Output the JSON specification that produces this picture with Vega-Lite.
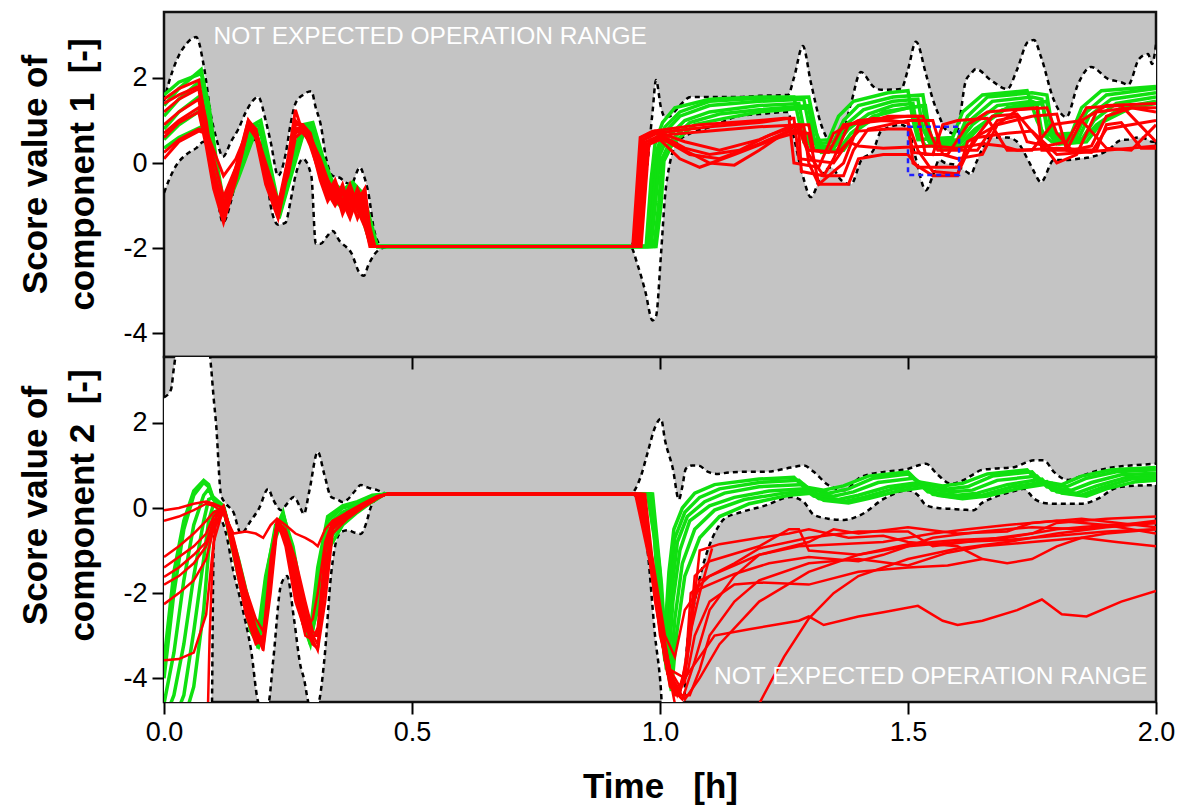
{
"$schema":"https://vega.github.io/schema/vega-lite/v6.json",
"background":"white",
"padding":{"left":17,"top":10,"right":10,"bottom":5},
"spacing":0,
"bounds":"flush",
"config":{
"font":"Liberation Sans",
"view":{"fill":"#c4c4c4","stroke":"#111111","strokeWidth":2.5},
"axis":{"domain":false,"grid":false,"labelFont":"Liberation Sans","labelFontSize":27,"labelColor":"black","tickColor":"black","tickWidth":2,"tickSize":12,"labelPadding":5,"labelFlush":false,"labelOverlap":false,"titleFont":"Liberation Sans","titleFontSize":35,"titleFontWeight":"bold","titleColor":"black"}
},
"datasets":{
"e1":[{"x":0,"lo":-0.7,"hi":1.45},{"x":0.01,"lo":-0.4,"hi":1.9},{"x":0.025,"lo":-0.05,"hi":2.4},{"x":0.045,"lo":0.2,"hi":2.8},{"x":0.065,"lo":0.35,"hi":2.96},{"x":0.08,"lo":0.5,"hi":2.3},{"x":0.095,"lo":0.1,"hi":1.1},{"x":0.105,"lo":-0.6,"hi":0.6},{"x":0.119,"lo":-1.4,"hi":0.15},{"x":0.135,"lo":-0.9,"hi":0.5},{"x":0.15,"lo":-0.1,"hi":0.8},{"x":0.165,"lo":0.5,"hi":1.2},{"x":0.19,"lo":0.55,"hi":1.55},{"x":0.205,"lo":0,"hi":1},{"x":0.215,"lo":-1,"hi":0.5},{"x":0.23,"lo":-1.45,"hi":-0.3},{"x":0.245,"lo":-1.4,"hi":0.2},{"x":0.255,"lo":-0.9,"hi":0.9},{"x":0.265,"lo":-0.3,"hi":1.4},{"x":0.28,"lo":0.1,"hi":1.6},{"x":0.297,"lo":-0.3,"hi":1.69},{"x":0.306,"lo":-1.9,"hi":1.3},{"x":0.316,"lo":-1.9,"hi":0.9},{"x":0.327,"lo":-1.75,"hi":0.1},{"x":0.34,"lo":-1.6,"hi":-0.3},{"x":0.355,"lo":-1.85,"hi":-0.35},{"x":0.365,"lo":-1.95,"hi":-0.45},{"x":0.377,"lo":-2.1,"hi":-0.5},{"x":0.395,"lo":-2.6,"hi":-0.1},{"x":0.403,"lo":-2.65,"hi":-0.3},{"x":0.412,"lo":-2.4,"hi":-0.7},{"x":0.424,"lo":-2.15,"hi":-1.6},{"x":0.44,"lo":-2,"hi":-1.96},{"x":0.46,"lo":-1.96,"hi":-1.96},{"x":0.94,"lo":-1.96,"hi":-1.96},{"x":0.955,"lo":-2.4,"hi":-1.5},{"x":0.97,"lo":-3,"hi":-0.5},{"x":0.985,"lo":-3.7,"hi":1.2},{"x":0.992,"lo":-3.6,"hi":1.95},{"x":1.002,"lo":-2.15,"hi":1.3},{"x":1.01,"lo":-0.8,"hi":1.08},{"x":1.02,"lo":0,"hi":1.1},{"x":1.036,"lo":0.5,"hi":1.3},{"x":1.062,"lo":0.7,"hi":1.55},{"x":1.103,"lo":0.85,"hi":1.55},{"x":1.157,"lo":1.1,"hi":1.55},{"x":1.2,"lo":1.15,"hi":1.58},{"x":1.258,"lo":1.2,"hi":1.6},{"x":1.27,"lo":0.6,"hi":2},{"x":1.288,"lo":-0.3,"hi":2.75},{"x":1.304,"lo":-0.8,"hi":1.9},{"x":1.325,"lo":-0.3,"hi":0.9},{"x":1.345,"lo":-0.1,"hi":0.5},{"x":1.365,"lo":-0.4,"hi":0.6},{"x":1.385,"lo":-0.5,"hi":1.4},{"x":1.405,"lo":0.05,"hi":2.14},{"x":1.43,"lo":0.3,"hi":1.8},{"x":1.446,"lo":0.75,"hi":1.72},{"x":1.486,"lo":0.9,"hi":1.74},{"x":1.5,"lo":0.8,"hi":2.2},{"x":1.516,"lo":0.1,"hi":2.85},{"x":1.536,"lo":-0.64,"hi":2.1},{"x":1.55,"lo":-0.3,"hi":1.5},{"x":1.563,"lo":0.07,"hi":1.1},{"x":1.575,"lo":0,"hi":0.8},{"x":1.597,"lo":-0.05,"hi":0.68},{"x":1.617,"lo":-0.2,"hi":1.95},{"x":1.627,"lo":-0.26,"hi":2.1},{"x":1.637,"lo":0,"hi":2.21},{"x":1.667,"lo":0.6,"hi":1.95},{"x":1.7,"lo":0.6,"hi":1.74},{"x":1.72,"lo":0.5,"hi":2.2},{"x":1.742,"lo":0.07,"hi":2.85},{"x":1.754,"lo":-0.2,"hi":2.89},{"x":1.768,"lo":-0.45,"hi":2.5},{"x":1.794,"lo":0.07,"hi":1.48},{"x":1.819,"lo":0.07,"hi":1.08},{"x":1.843,"lo":0.1,"hi":1.86},{"x":1.869,"lo":0.14,"hi":2.26},{"x":1.903,"lo":0.3,"hi":1.98},{"x":1.93,"lo":0.54,"hi":1.9},{"x":1.944,"lo":0.55,"hi":1.84},{"x":1.966,"lo":0.6,"hi":2.45},{"x":1.984,"lo":0.55,"hi":2.56},{"x":1.992,"lo":0.5,"hi":2.33},{"x":2,"lo":0.5,"hi":2.78}],
"e2":[{"x":0,"lo":-6,"hi":2.6},{"x":0.014,"lo":-6,"hi":2.78},{"x":0.02,"lo":-6,"hi":3.3},{"x":0.03,"lo":-6,"hi":4},{"x":0.088,"lo":-6,"hi":4},{"x":0.095,"lo":-6,"hi":3.3},{"x":0.1,"lo":-1,"hi":2.6},{"x":0.105,"lo":-0.3,"hi":1.98},{"x":0.115,"lo":-0.3,"hi":0.3},{"x":0.125,"lo":-0.6,"hi":0.1},{"x":0.14,"lo":-1.5,"hi":-0.1},{"x":0.155,"lo":-2.2,"hi":-0.6},{"x":0.175,"lo":-3.3,"hi":-0.3},{"x":0.192,"lo":-4.6,"hi":0},{"x":0.21,"lo":-4.6,"hi":0.45},{"x":0.22,"lo":-3.6,"hi":0.2},{"x":0.236,"lo":-1.8,"hi":-0.05},{"x":0.248,"lo":-1.6,"hi":0.1},{"x":0.262,"lo":-2.6,"hi":0.26},{"x":0.275,"lo":-3.7,"hi":0},{"x":0.282,"lo":-4,"hi":-0.14},{"x":0.293,"lo":-4.6,"hi":0.4},{"x":0.31,"lo":-4.6,"hi":1.32},{"x":0.323,"lo":-3.6,"hi":0.8},{"x":0.337,"lo":-1.55,"hi":0.26},{"x":0.35,"lo":-0.68,"hi":0.2},{"x":0.36,"lo":-0.55,"hi":0.14},{"x":0.37,"lo":-0.52,"hi":0.2},{"x":0.385,"lo":-0.58,"hi":0.4},{"x":0.397,"lo":-0.61,"hi":0.54},{"x":0.407,"lo":-0.38,"hi":0.5},{"x":0.417,"lo":0.02,"hi":0.46},{"x":0.43,"lo":0.25,"hi":0.42},{"x":0.445,"lo":0.33,"hi":0.35},{"x":0.46,"lo":0.33,"hi":0.33},{"x":0.94,"lo":0.33,"hi":0.33},{"x":0.96,"lo":0.2,"hi":0.7},{"x":0.975,"lo":-1,"hi":1.3},{"x":0.99,"lo":-3,"hi":1.9},{"x":1.002,"lo":-4.3,"hi":2.1},{"x":1.01,"lo":-6,"hi":1.6},{"x":1.026,"lo":-6,"hi":0.92},{"x":1.038,"lo":-6,"hi":0.2},{"x":1.045,"lo":-6,"hi":0.5},{"x":1.052,"lo":-3.6,"hi":0.92},{"x":1.065,"lo":-2.5,"hi":1},{"x":1.077,"lo":-1.8,"hi":1},{"x":1.097,"lo":-0.96,"hi":0.85},{"x":1.117,"lo":-0.45,"hi":0.8},{"x":1.129,"lo":-0.26,"hi":0.82},{"x":1.163,"lo":-0.1,"hi":0.85},{"x":1.21,"lo":0.05,"hi":0.85},{"x":1.264,"lo":0.26,"hi":0.95},{"x":1.29,"lo":0.14,"hi":1},{"x":1.31,"lo":-0.16,"hi":0.85},{"x":1.339,"lo":-0.25,"hi":0.54},{"x":1.371,"lo":-0.28,"hi":0.42},{"x":1.405,"lo":-0.16,"hi":0.73},{"x":1.452,"lo":0.22,"hi":0.85},{"x":1.5,"lo":0.42,"hi":0.92},{"x":1.52,"lo":0.3,"hi":1},{"x":1.536,"lo":0.07,"hi":1.04},{"x":1.56,"lo":0,"hi":0.78},{"x":1.587,"lo":-0.02,"hi":0.57},{"x":1.613,"lo":-0.04,"hi":0.66},{"x":1.633,"lo":-0.05,"hi":0.8},{"x":1.647,"lo":0.1,"hi":0.89},{"x":1.667,"lo":0.22,"hi":0.92},{"x":1.714,"lo":0.4,"hi":0.96},{"x":1.734,"lo":0.45,"hi":1.05},{"x":1.754,"lo":0.22,"hi":1.12},{"x":1.774,"lo":0.12,"hi":1.12},{"x":1.794,"lo":0.1,"hi":0.85},{"x":1.823,"lo":0.1,"hi":0.66},{"x":1.849,"lo":0.1,"hi":0.75},{"x":1.883,"lo":0.22,"hi":0.88},{"x":1.915,"lo":0.45,"hi":0.96},{"x":1.93,"lo":0.5,"hi":0.98},{"x":2,"lo":0.54,"hi":1.04}],
"tg":[
{"s":1,"x":0,"y":1.35},{"s":1,"x":0.03,"y":1.75},{"s":1,"x":0.075,"y":2.2},{"s":1,"x":0.09,"y":1.3},{"s":1,"x":0.105,"y":0},{"s":1,"x":0.12,"y":-1},{"s":1,"x":0.15,"y":-0.1},{"s":1,"x":0.18,"y":0.85},{"s":1,"x":0.195,"y":0.9},{"s":1,"x":0.215,"y":-0.2},{"s":1,"x":0.232,"y":-1.15},{"s":1,"x":0.255,"y":-0.1},{"s":1,"x":0.28,"y":0.85},{"s":1,"x":0.3,"y":0.85},{"s":1,"x":0.32,"y":0},{"s":1,"x":0.34,"y":-0.6},{"s":1,"x":0.36,"y":-0.8},{"s":1,"x":0.38,"y":-0.6},{"s":1,"x":0.4,"y":-0.9},{"s":1,"x":0.415,"y":-1.5},{"s":1,"x":0.43,"y":-1.96},{"s":1,"x":0.975,"y":-1.96},{"s":1,"x":0.985,"y":-0.6},{"s":1,"x":0.995,"y":0.35},{"s":1,"x":1.01,"y":0.85},{"s":1,"x":1.04,"y":1.2},{"s":1,"x":1.1,"y":1.45},{"s":1,"x":1.2,"y":1.52},{"s":1,"x":1.3,"y":1.55},{"s":1,"x":1.31,"y":1},{"s":1,"x":1.32,"y":0.45},{"s":1,"x":1.35,"y":0.5},{"s":1,"x":1.37,"y":1},{"s":1,"x":1.4,"y":1.35},{"s":1,"x":1.47,"y":1.55},{"s":1,"x":1.53,"y":1.6},{"s":1,"x":1.54,"y":0.9},{"s":1,"x":1.55,"y":0.5},{"s":1,"x":1.6,"y":0.55},{"s":1,"x":1.62,"y":1.1},{"s":1,"x":1.66,"y":1.55},{"s":1,"x":1.75,"y":1.65},{"s":1,"x":1.78,"y":1.6},{"s":1,"x":1.79,"y":0.9},{"s":1,"x":1.8,"y":0.6},{"s":1,"x":1.84,"y":0.65},{"s":1,"x":1.86,"y":1.2},{"s":1,"x":1.9,"y":1.6},{"s":1,"x":2,"y":1.75},
{"s":2,"x":0,"y":1.1},{"s":2,"x":0.03,"y":1.5},{"s":2,"x":0.075,"y":1.95},{"s":2,"x":0.09,"y":1.1},{"s":2,"x":0.105,"y":-0.15},{"s":2,"x":0.12,"y":-1.1},{"s":2,"x":0.15,"y":-0.2},{"s":2,"x":0.18,"y":0.75},{"s":2,"x":0.195,"y":0.8},{"s":2,"x":0.215,"y":-0.3},{"s":2,"x":0.232,"y":-1.2},{"s":2,"x":0.255,"y":-0.2},{"s":2,"x":0.28,"y":0.75},{"s":2,"x":0.3,"y":0.8},{"s":2,"x":0.32,"y":-0.1},{"s":2,"x":0.34,"y":-0.7},{"s":2,"x":0.36,"y":-0.9},{"s":2,"x":0.38,"y":-0.7},{"s":2,"x":0.4,"y":-1.1},{"s":2,"x":0.415,"y":-1.7},{"s":2,"x":0.43,"y":-1.96},{"s":2,"x":0.978,"y":-1.96},{"s":2,"x":0.988,"y":-0.7},{"s":2,"x":0.998,"y":0.3},{"s":2,"x":1.012,"y":0.75},{"s":2,"x":1.04,"y":1.1},{"s":2,"x":1.1,"y":1.35},{"s":2,"x":1.2,"y":1.45},{"s":2,"x":1.29,"y":1.5},{"s":2,"x":1.3,"y":0.9},{"s":2,"x":1.315,"y":0.4},{"s":2,"x":1.35,"y":0.4},{"s":2,"x":1.375,"y":0.9},{"s":2,"x":1.41,"y":1.25},{"s":2,"x":1.47,"y":1.45},{"s":2,"x":1.52,"y":1.5},{"s":2,"x":1.53,"y":0.8},{"s":2,"x":1.545,"y":0.45},{"s":2,"x":1.6,"y":0.5},{"s":2,"x":1.625,"y":1},{"s":2,"x":1.67,"y":1.45},{"s":2,"x":1.75,"y":1.55},{"s":2,"x":1.77,"y":1.5},{"s":2,"x":1.78,"y":0.8},{"s":2,"x":1.795,"y":0.55},{"s":2,"x":1.845,"y":0.6},{"s":2,"x":1.865,"y":1.1},{"s":2,"x":1.91,"y":1.5},{"s":2,"x":2,"y":1.65},
{"s":3,"x":0,"y":0.8},{"s":3,"x":0.03,"y":1.2},{"s":3,"x":0.075,"y":1.6},{"s":3,"x":0.09,"y":0.9},{"s":3,"x":0.105,"y":-0.3},{"s":3,"x":0.12,"y":-1.15},{"s":3,"x":0.15,"y":-0.3},{"s":3,"x":0.18,"y":0.65},{"s":3,"x":0.195,"y":0.75},{"s":3,"x":0.215,"y":-0.35},{"s":3,"x":0.232,"y":-1.25},{"s":3,"x":0.255,"y":-0.3},{"s":3,"x":0.28,"y":0.7},{"s":3,"x":0.3,"y":0.75},{"s":3,"x":0.32,"y":-0.2},{"s":3,"x":0.34,"y":-0.8},{"s":3,"x":0.36,"y":-1},{"s":3,"x":0.38,"y":-0.8},{"s":3,"x":0.4,"y":-1.2},{"s":3,"x":0.415,"y":-1.8},{"s":3,"x":0.43,"y":-1.96},{"s":3,"x":0.982,"y":-1.96},{"s":3,"x":0.992,"y":-0.8},{"s":3,"x":1,"y":0.2},{"s":3,"x":1.015,"y":0.6},{"s":3,"x":1.05,"y":1},{"s":3,"x":1.1,"y":1.2},{"s":3,"x":1.2,"y":1.35},{"s":3,"x":1.28,"y":1.4},{"s":3,"x":1.29,"y":0.8},{"s":3,"x":1.305,"y":0.35},{"s":3,"x":1.35,"y":0.35},{"s":3,"x":1.38,"y":0.8},{"s":3,"x":1.42,"y":1.15},{"s":3,"x":1.47,"y":1.35},{"s":3,"x":1.51,"y":1.4},{"s":3,"x":1.52,"y":0.7},{"s":3,"x":1.535,"y":0.4},{"s":3,"x":1.6,"y":0.45},{"s":3,"x":1.63,"y":0.9},{"s":3,"x":1.68,"y":1.35},{"s":3,"x":1.75,"y":1.45},{"s":3,"x":1.76,"y":1.4},{"s":3,"x":1.77,"y":0.7},{"s":3,"x":1.79,"y":0.5},{"s":3,"x":1.85,"y":0.55},{"s":3,"x":1.875,"y":1},{"s":3,"x":1.92,"y":1.4},{"s":3,"x":2,"y":1.55},
{"s":4,"x":0,"y":0.55},{"s":4,"x":0.03,"y":0.9},{"s":4,"x":0.075,"y":1.25},{"s":4,"x":0.09,"y":0.8},{"s":4,"x":0.105,"y":-0.35},{"s":4,"x":0.12,"y":-1.2},{"s":4,"x":0.15,"y":-0.35},{"s":4,"x":0.18,"y":0.6},{"s":4,"x":0.195,"y":0.7},{"s":4,"x":0.215,"y":-0.4},{"s":4,"x":0.232,"y":-1.3},{"s":4,"x":0.255,"y":-0.35},{"s":4,"x":0.28,"y":0.65},{"s":4,"x":0.3,"y":0.7},{"s":4,"x":0.32,"y":-0.25},{"s":4,"x":0.34,"y":-0.85},{"s":4,"x":0.36,"y":-1.05},{"s":4,"x":0.38,"y":-0.9},{"s":4,"x":0.4,"y":-1.3},{"s":4,"x":0.415,"y":-1.85},{"s":4,"x":0.43,"y":-1.96},{"s":4,"x":0.988,"y":-1.96},{"s":4,"x":0.998,"y":-0.9},{"s":4,"x":1.004,"y":0.1},{"s":4,"x":1.02,"y":0.5},{"s":4,"x":1.06,"y":0.95},{"s":4,"x":1.12,"y":1.15},{"s":4,"x":1.2,"y":1.25},{"s":4,"x":1.3,"y":1.35},{"s":4,"x":1.315,"y":0.7},{"s":4,"x":1.33,"y":0.3},{"s":4,"x":1.36,"y":0.3},{"s":4,"x":1.385,"y":0.7},{"s":4,"x":1.43,"y":1.1},{"s":4,"x":1.5,"y":1.3},{"s":4,"x":1.535,"y":1.35},{"s":4,"x":1.545,"y":0.6},{"s":4,"x":1.56,"y":0.4},{"s":4,"x":1.6,"y":0.4},{"s":4,"x":1.635,"y":0.8},{"s":4,"x":1.69,"y":1.25},{"s":4,"x":1.77,"y":1.4},{"s":4,"x":1.785,"y":0.7},{"s":4,"x":1.8,"y":0.45},{"s":4,"x":1.85,"y":0.5},{"s":4,"x":1.88,"y":0.9},{"s":4,"x":1.93,"y":1.3},{"s":4,"x":2,"y":1.45},
{"s":5,"x":0,"y":0.35},{"s":5,"x":0.03,"y":0.6},{"s":5,"x":0.075,"y":0.85},{"s":5,"x":0.09,"y":0.6},{"s":5,"x":0.105,"y":-0.3},{"s":5,"x":0.12,"y":-1},{"s":5,"x":0.15,"y":-0.2},{"s":5,"x":0.18,"y":0.7},{"s":5,"x":0.195,"y":0.85},{"s":5,"x":0.215,"y":-0.25},{"s":5,"x":0.232,"y":-1.1},{"s":5,"x":0.255,"y":-0.25},{"s":5,"x":0.28,"y":0.8},{"s":5,"x":0.3,"y":0.9},{"s":5,"x":0.32,"y":0.1},{"s":5,"x":0.34,"y":-0.5},{"s":5,"x":0.36,"y":-0.7},{"s":5,"x":0.38,"y":-0.5},{"s":5,"x":0.4,"y":-0.8},{"s":5,"x":0.415,"y":-1.4},{"s":5,"x":0.43,"y":-1.96},{"s":5,"x":0.992,"y":-1.96},{"s":5,"x":1.002,"y":-1},{"s":5,"x":1.008,"y":0.05},{"s":5,"x":1.025,"y":0.45},{"s":5,"x":1.07,"y":0.9},{"s":5,"x":1.13,"y":1.05},{"s":5,"x":1.2,"y":1.2},{"s":5,"x":1.3,"y":1.3},{"s":5,"x":1.31,"y":0.6},{"s":5,"x":1.325,"y":0.25},{"s":5,"x":1.37,"y":0.3},{"s":5,"x":1.4,"y":0.8},{"s":5,"x":1.45,"y":1.2},{"s":5,"x":1.53,"y":1.35},{"s":5,"x":1.54,"y":0.55},{"s":5,"x":1.555,"y":0.35},{"s":5,"x":1.61,"y":0.4},{"s":5,"x":1.645,"y":0.85},{"s":5,"x":1.7,"y":1.3},{"s":5,"x":1.78,"y":1.45},{"s":5,"x":1.79,"y":0.65},{"s":5,"x":1.805,"y":0.45},{"s":5,"x":1.86,"y":0.5},{"s":5,"x":1.89,"y":0.95},{"s":5,"x":1.95,"y":1.3},{"s":5,"x":2,"y":1.4},
{"s":6,"x":0,"y":1.6},{"s":6,"x":0.03,"y":1.9},{"s":6,"x":0.075,"y":2.1},{"s":6,"x":0.09,"y":1.4},{"s":6,"x":0.105,"y":0.1},{"s":6,"x":0.12,"y":-0.9},{"s":6,"x":0.15,"y":0},{"s":6,"x":0.18,"y":0.9},{"s":6,"x":0.195,"y":1},{"s":6,"x":0.215,"y":-0.1},{"s":6,"x":0.232,"y":-1.05},{"s":6,"x":0.255,"y":0},{"s":6,"x":0.28,"y":0.9},{"s":6,"x":0.3,"y":0.95},{"s":6,"x":0.32,"y":0.15},{"s":6,"x":0.34,"y":-0.45},{"s":6,"x":0.36,"y":-0.65},{"s":6,"x":0.38,"y":-0.45},{"s":6,"x":0.4,"y":-0.7},{"s":6,"x":0.415,"y":-1.3},{"s":6,"x":0.43,"y":-1.96},{"s":6,"x":0.972,"y":-1.96},{"s":6,"x":0.982,"y":-0.4},{"s":6,"x":0.99,"y":0.45},{"s":6,"x":1.005,"y":0.95},{"s":6,"x":1.03,"y":1.3},{"s":6,"x":1.1,"y":1.5},{"s":6,"x":1.2,"y":1.55},{"s":6,"x":1.27,"y":1.55},{"s":6,"x":1.28,"y":1},{"s":6,"x":1.29,"y":0.5},{"s":6,"x":1.34,"y":0.55},{"s":6,"x":1.36,"y":1.1},{"s":6,"x":1.39,"y":1.45},{"s":6,"x":1.46,"y":1.65},{"s":6,"x":1.5,"y":1.7},{"s":6,"x":1.51,"y":1},{"s":6,"x":1.52,"y":0.55},{"s":6,"x":1.59,"y":0.6},{"s":6,"x":1.61,"y":1.2},{"s":6,"x":1.65,"y":1.6},{"s":6,"x":1.74,"y":1.7},{"s":6,"x":1.76,"y":1},{"s":6,"x":1.775,"y":0.65},{"s":6,"x":1.83,"y":0.7},{"s":6,"x":1.85,"y":1.3},{"s":6,"x":1.89,"y":1.7},{"s":6,"x":2,"y":1.8}
],
"tr":[
{"s":1,"x":0,"y":1.5},{"s":1,"x":0.03,"y":1.75},{"s":1,"x":0.07,"y":1.95},{"s":1,"x":0.085,"y":0.9},{"s":1,"x":0.1,"y":-0.3},{"s":1,"x":0.12,"y":-1.2},{"s":1,"x":0.145,"y":-0.2},{"s":1,"x":0.17,"y":1},{"s":1,"x":0.185,"y":0.7},{"s":1,"x":0.205,"y":-0.3},{"s":1,"x":0.23,"y":-1.2},{"s":1,"x":0.25,"y":0.1},{"s":1,"x":0.265,"y":1.25},{"s":1,"x":0.28,"y":0.7},{"s":1,"x":0.295,"y":0.5},{"s":1,"x":0.315,"y":-0.2},{"s":1,"x":0.33,"y":-0.6},{"s":1,"x":0.345,"y":-0.9},{"s":1,"x":0.36,"y":-0.5},{"s":1,"x":0.375,"y":-1.1},{"s":1,"x":0.39,"y":-0.6},{"s":1,"x":0.405,"y":-1},{"s":1,"x":0.415,"y":-1.8},{"s":1,"x":0.425,"y":-1.96},{"s":1,"x":0.95,"y":-1.96},{"s":1,"x":0.965,"y":0.55},{"s":1,"x":0.99,"y":0.7},{"s":1,"x":1.1,"y":0.85},{"s":1,"x":1.2,"y":0.95},{"s":1,"x":1.26,"y":1.05},{"s":1,"x":1.27,"y":0},{"s":1,"x":1.32,"y":-0.1},{"s":1,"x":1.35,"y":0.7},{"s":1,"x":1.4,"y":1},{"s":1,"x":1.5,"y":1.1},{"s":1,"x":1.52,"y":1.1},{"s":1,"x":1.535,"y":0.2},{"s":1,"x":1.58,"y":0.2},{"s":1,"x":1.62,"y":0.9},{"s":1,"x":1.66,"y":1.2},{"s":1,"x":1.76,"y":1.3},{"s":1,"x":1.77,"y":0.3},{"s":1,"x":1.82,"y":0.3},{"s":1,"x":1.85,"y":1},{"s":1,"x":1.9,"y":1.35},{"s":1,"x":2,"y":1.4},
{"s":2,"x":0,"y":1.2},{"s":2,"x":0.03,"y":1.5},{"s":2,"x":0.07,"y":1.75},{"s":2,"x":0.085,"y":0.7},{"s":2,"x":0.1,"y":-0.4},{"s":2,"x":0.12,"y":-1.1},{"s":2,"x":0.145,"y":-0.3},{"s":2,"x":0.17,"y":0.95},{"s":2,"x":0.185,"y":0.6},{"s":2,"x":0.205,"y":-0.2},{"s":2,"x":0.23,"y":-1.1},{"s":2,"x":0.25,"y":0},{"s":2,"x":0.265,"y":0.9},{"s":2,"x":0.28,"y":0.9},{"s":2,"x":0.295,"y":0.7},{"s":2,"x":0.315,"y":-0.2},{"s":2,"x":0.33,"y":-0.8},{"s":2,"x":0.345,"y":-0.5},{"s":2,"x":0.36,"y":-1},{"s":2,"x":0.375,"y":-0.6},{"s":2,"x":0.39,"y":-1.1},{"s":2,"x":0.405,"y":-0.7},{"s":2,"x":0.415,"y":-1.9},{"s":2,"x":0.425,"y":-1.96},{"s":2,"x":0.955,"y":-1.96},{"s":2,"x":0.972,"y":0.5},{"s":2,"x":1,"y":0.65},{"s":2,"x":1.05,"y":0.3},{"s":2,"x":1.1,"y":0},{"s":2,"x":1.15,"y":-0.05},{"s":2,"x":1.2,"y":0.3},{"s":2,"x":1.25,"y":0.7},{"s":2,"x":1.28,"y":0.8},{"s":2,"x":1.3,"y":0.2},{"s":2,"x":1.33,"y":-0.3},{"s":2,"x":1.37,"y":-0.3},{"s":2,"x":1.39,"y":0.3},{"s":2,"x":1.42,"y":0.8},{"s":2,"x":1.5,"y":1},{"s":2,"x":1.55,"y":1},{"s":2,"x":1.57,"y":0.2},{"s":2,"x":1.6,"y":0.1},{"s":2,"x":1.65,"y":0.2},{"s":2,"x":1.68,"y":0.9},{"s":2,"x":1.75,"y":1.1},{"s":2,"x":1.8,"y":1.15},{"s":2,"x":1.82,"y":0.3},{"s":2,"x":1.87,"y":0.25},{"s":2,"x":1.9,"y":0.8},{"s":2,"x":2,"y":1},
{"s":3,"x":0,"y":0.9},{"s":3,"x":0.03,"y":1.2},{"s":3,"x":0.07,"y":1.5},{"s":3,"x":0.085,"y":0.5},{"s":3,"x":0.1,"y":-0.5},{"s":3,"x":0.12,"y":-1.3},{"s":3,"x":0.145,"y":-0.25},{"s":3,"x":0.17,"y":0.9},{"s":3,"x":0.185,"y":0.75},{"s":3,"x":0.205,"y":-0.4},{"s":3,"x":0.23,"y":-1.25},{"s":3,"x":0.25,"y":-0.1},{"s":3,"x":0.265,"y":0.8},{"s":3,"x":0.28,"y":0.85},{"s":3,"x":0.295,"y":0.6},{"s":3,"x":0.315,"y":-0.1},{"s":3,"x":0.33,"y":-0.5},{"s":3,"x":0.345,"y":-0.9},{"s":3,"x":0.36,"y":-0.6},{"s":3,"x":0.375,"y":-1},{"s":3,"x":0.39,"y":-0.7},{"s":3,"x":0.405,"y":-1.2},{"s":3,"x":0.415,"y":-1.6},{"s":3,"x":0.425,"y":-1.96},{"s":3,"x":0.96,"y":-1.96},{"s":3,"x":0.975,"y":0.45},{"s":3,"x":1,"y":0.6},{"s":3,"x":1.06,"y":0.2},{"s":3,"x":1.12,"y":0.1},{"s":3,"x":1.2,"y":0.45},{"s":3,"x":1.26,"y":0.75},{"s":3,"x":1.28,"y":0.75},{"s":3,"x":1.285,"y":-0.2},{"s":3,"x":1.33,"y":-0.3},{"s":3,"x":1.35,"y":0.1},{"s":3,"x":1.38,"y":0.9},{"s":3,"x":1.43,"y":1.05},{"s":3,"x":1.5,"y":0.95},{"s":3,"x":1.52,"y":0.3},{"s":3,"x":1.55,"y":-0.2},{"s":3,"x":1.6,"y":-0.25},{"s":3,"x":1.63,"y":0.5},{"s":3,"x":1.67,"y":1.1},{"s":3,"x":1.72,"y":1.15},{"s":3,"x":1.76,"y":0.6},{"s":3,"x":1.8,"y":0},{"s":3,"x":1.84,"y":0.2},{"s":3,"x":1.88,"y":1.2},{"s":3,"x":1.95,"y":1.3},{"s":3,"x":2,"y":1.2},
{"s":4,"x":0,"y":0.6},{"s":4,"x":0.03,"y":0.95},{"s":4,"x":0.07,"y":1.2},{"s":4,"x":0.085,"y":0.4},{"s":4,"x":0.1,"y":-0.6},{"s":4,"x":0.12,"y":-1.4},{"s":4,"x":0.145,"y":-0.4},{"s":4,"x":0.17,"y":0.85},{"s":4,"x":0.185,"y":0.6},{"s":4,"x":0.205,"y":-0.5},{"s":4,"x":0.23,"y":-1.3},{"s":4,"x":0.25,"y":-0.2},{"s":4,"x":0.265,"y":0.7},{"s":4,"x":0.28,"y":0.8},{"s":4,"x":0.295,"y":0.5},{"s":4,"x":0.315,"y":-0.3},{"s":4,"x":0.33,"y":-0.7},{"s":4,"x":0.345,"y":-1},{"s":4,"x":0.36,"y":-0.7},{"s":4,"x":0.375,"y":-1.2},{"s":4,"x":0.39,"y":-0.9},{"s":4,"x":0.405,"y":-0.6},{"s":4,"x":0.415,"y":-1.5},{"s":4,"x":0.425,"y":-1.96},{"s":4,"x":0.948,"y":-1.96},{"s":4,"x":0.962,"y":0.6},{"s":4,"x":0.99,"y":0.75},{"s":4,"x":1.05,"y":0.5},{"s":4,"x":1.12,"y":0.3},{"s":4,"x":1.2,"y":0.55},{"s":4,"x":1.27,"y":0.9},{"s":4,"x":1.3,"y":0.9},{"s":4,"x":1.31,"y":0.3},{"s":4,"x":1.36,"y":0.25},{"s":4,"x":1.4,"y":0.75},{"s":4,"x":1.46,"y":0.8},{"s":4,"x":1.5,"y":0.8},{"s":4,"x":1.51,"y":0.25},{"s":4,"x":1.55,"y":0.2},{"s":4,"x":1.57,"y":0.9},{"s":4,"x":1.6,"y":1},{"s":4,"x":1.66,"y":1.05},{"s":4,"x":1.7,"y":0.3},{"s":4,"x":1.75,"y":0.3},{"s":4,"x":1.79,"y":0.9},{"s":4,"x":1.85,"y":1},{"s":4,"x":1.9,"y":0.35},{"s":4,"x":1.95,"y":0.3},{"s":4,"x":2,"y":0.9},
{"s":5,"x":0,"y":0.25},{"s":5,"x":0.03,"y":0.55},{"s":5,"x":0.07,"y":0.8},{"s":5,"x":0.085,"y":0.75},{"s":5,"x":0.1,"y":0.3},{"s":5,"x":0.12,"y":-0.3},{"s":5,"x":0.145,"y":0.1},{"s":5,"x":0.17,"y":0.8},{"s":5,"x":0.185,"y":0.75},{"s":5,"x":0.205,"y":0},{"s":5,"x":0.23,"y":-0.9},{"s":5,"x":0.25,"y":-0.3},{"s":5,"x":0.265,"y":0.6},{"s":5,"x":0.28,"y":0.75},{"s":5,"x":0.295,"y":0.6},{"s":5,"x":0.315,"y":0.1},{"s":5,"x":0.33,"y":-0.4},{"s":5,"x":0.345,"y":-0.7},{"s":5,"x":0.36,"y":-0.9},{"s":5,"x":0.375,"y":-0.5},{"s":5,"x":0.39,"y":-1},{"s":5,"x":0.405,"y":-1.3},{"s":5,"x":0.415,"y":-1.8},{"s":5,"x":0.425,"y":-1.96},{"s":5,"x":0.958,"y":-1.96},{"s":5,"x":0.97,"y":0.4},{"s":5,"x":1,"y":0.55},{"s":5,"x":1.04,"y":0.1},{"s":5,"x":1.08,"y":-0.1},{"s":5,"x":1.15,"y":0.2},{"s":5,"x":1.24,"y":0.6},{"s":5,"x":1.27,"y":0.7},{"s":5,"x":1.3,"y":0.7},{"s":5,"x":1.32,"y":-0.5},{"s":5,"x":1.38,"y":-0.5},{"s":5,"x":1.4,"y":0.1},{"s":5,"x":1.45,"y":0.2},{"s":5,"x":1.5,"y":0.2},{"s":5,"x":1.52,"y":-0.1},{"s":5,"x":1.6,"y":-0.1},{"s":5,"x":1.64,"y":0.6},{"s":5,"x":1.7,"y":0.7},{"s":5,"x":1.75,"y":0.75},{"s":5,"x":1.8,"y":0.2},{"s":5,"x":1.85,"y":0.25},{"s":5,"x":1.9,"y":0.3},{"s":5,"x":1.95,"y":0.35},{"s":5,"x":2,"y":0.4},
{"s":6,"x":0,"y":0.1},{"s":6,"x":0.03,"y":0.5},{"s":6,"x":0.07,"y":0.75},{"s":6,"x":0.085,"y":0.7},{"s":6,"x":0.1,"y":0.1},{"s":6,"x":0.12,"y":-0.8},{"s":6,"x":0.145,"y":-0.1},{"s":6,"x":0.17,"y":0.9},{"s":6,"x":0.185,"y":0.8},{"s":6,"x":0.205,"y":-0.1},{"s":6,"x":0.23,"y":-1},{"s":6,"x":0.25,"y":0.1},{"s":6,"x":0.265,"y":0.95},{"s":6,"x":0.28,"y":0.9},{"s":6,"x":0.295,"y":0.5},{"s":6,"x":0.315,"y":-0.4},{"s":6,"x":0.33,"y":-0.9},{"s":6,"x":0.345,"y":-0.6},{"s":6,"x":0.36,"y":-1.2},{"s":6,"x":0.375,"y":-0.8},{"s":6,"x":0.39,"y":-1.3},{"s":6,"x":0.405,"y":-0.9},{"s":6,"x":0.415,"y":-1.7},{"s":6,"x":0.425,"y":-1.96},{"s":6,"x":0.962,"y":-1.96},{"s":6,"x":0.978,"y":0.5},{"s":6,"x":1,"y":0.65},{"s":6,"x":1.1,"y":0.75},{"s":6,"x":1.2,"y":0.85},{"s":6,"x":1.28,"y":0.9},{"s":6,"x":1.3,"y":0.3},{"s":6,"x":1.34,"y":0.25},{"s":6,"x":1.37,"y":0.9},{"s":6,"x":1.45,"y":1},{"s":6,"x":1.5,"y":0.95},{"s":6,"x":1.51,"y":0},{"s":6,"x":1.55,"y":-0.3},{"s":6,"x":1.6,"y":-0.3},{"s":6,"x":1.62,"y":0.5},{"s":6,"x":1.68,"y":0.9},{"s":6,"x":1.72,"y":1.25},{"s":6,"x":1.78,"y":1.3},{"s":6,"x":1.8,"y":0.7},{"s":6,"x":1.83,"y":0.3},{"s":6,"x":1.87,"y":0.4},{"s":6,"x":1.9,"y":1.1},{"s":6,"x":1.95,"y":1.3},{"s":6,"x":2,"y":1.3},
{"s":7,"x":0,"y":1.4},{"s":7,"x":0.03,"y":1.6},{"s":7,"x":0.07,"y":1.8},{"s":7,"x":0.085,"y":1},{"s":7,"x":0.1,"y":-0.2},{"s":7,"x":0.12,"y":-1},{"s":7,"x":0.145,"y":-0.1},{"s":7,"x":0.17,"y":1},{"s":7,"x":0.185,"y":0.8},{"s":7,"x":0.205,"y":-0.3},{"s":7,"x":0.23,"y":-1.15},{"s":7,"x":0.25,"y":0},{"s":7,"x":0.265,"y":1},{"s":7,"x":0.28,"y":0.8},{"s":7,"x":0.295,"y":0.4},{"s":7,"x":0.315,"y":-0.3},{"s":7,"x":0.33,"y":-0.7},{"s":7,"x":0.345,"y":-0.4},{"s":7,"x":0.36,"y":-0.9},{"s":7,"x":0.375,"y":-1.3},{"s":7,"x":0.39,"y":-0.8},{"s":7,"x":0.405,"y":-1.4},{"s":7,"x":0.415,"y":-1.96},{"s":7,"x":0.425,"y":-1.96},{"s":7,"x":0.952,"y":-1.96},{"s":7,"x":0.968,"y":0.55},{"s":7,"x":0.995,"y":0.7},{"s":7,"x":1.05,"y":0.35},{"s":7,"x":1.1,"y":0.2},{"s":7,"x":1.16,"y":0.3},{"s":7,"x":1.22,"y":0.65},{"s":7,"x":1.27,"y":0.85},{"s":7,"x":1.29,"y":0.85},{"s":7,"x":1.3,"y":0},{"s":7,"x":1.32,"y":-0.5},{"s":7,"x":1.37,"y":0},{"s":7,"x":1.4,"y":0.9},{"s":7,"x":1.46,"y":1.1},{"s":7,"x":1.53,"y":1.1},{"s":7,"x":1.56,"y":0.3},{"s":7,"x":1.64,"y":0.3},{"s":7,"x":1.68,"y":1},{"s":7,"x":1.72,"y":1.1},{"s":7,"x":1.74,"y":0.5},{"s":7,"x":1.78,"y":0.4},{"s":7,"x":1.82,"y":0.5},{"s":7,"x":1.86,"y":1.3},{"s":7,"x":1.93,"y":1.35},{"s":7,"x":2,"y":0.5},
{"s":8,"x":0,"y":0.7},{"s":8,"x":0.03,"y":1},{"s":8,"x":0.07,"y":1.3},{"s":8,"x":0.085,"y":0.6},{"s":8,"x":0.1,"y":-0.2},{"s":8,"x":0.12,"y":-1.2},{"s":8,"x":0.145,"y":-0.3},{"s":8,"x":0.17,"y":0.8},{"s":8,"x":0.185,"y":0.7},{"s":8,"x":0.205,"y":-0.3},{"s":8,"x":0.23,"y":-1.2},{"s":8,"x":0.25,"y":-0.15},{"s":8,"x":0.265,"y":0.75},{"s":8,"x":0.28,"y":0.85},{"s":8,"x":0.295,"y":0.65},{"s":8,"x":0.315,"y":0},{"s":8,"x":0.33,"y":-0.4},{"s":8,"x":0.345,"y":-0.8},{"s":8,"x":0.36,"y":-1.1},{"s":8,"x":0.375,"y":-0.7},{"s":8,"x":0.39,"y":-1.1},{"s":8,"x":0.405,"y":-1.5},{"s":8,"x":0.415,"y":-1.9},{"s":8,"x":0.425,"y":-1.96},{"s":8,"x":0.945,"y":-1.96},{"s":8,"x":0.96,"y":0.6},{"s":8,"x":0.985,"y":0.75},{"s":8,"x":1.08,"y":0.9},{"s":8,"x":1.2,"y":1},{"s":8,"x":1.25,"y":1.05},{"s":8,"x":1.27,"y":1.05},{"s":8,"x":1.28,"y":0.1},{"s":8,"x":1.35,"y":0},{"s":8,"x":1.38,"y":0.5},{"s":8,"x":1.4,"y":0.4},{"s":8,"x":1.45,"y":0.35},{"s":8,"x":1.55,"y":0.4},{"s":8,"x":1.6,"y":0.35},{"s":8,"x":1.65,"y":0.45},{"s":8,"x":1.69,"y":0.4},{"s":8,"x":1.72,"y":0.3},{"s":8,"x":1.8,"y":0.35},{"s":8,"x":1.88,"y":0.3},{"s":8,"x":1.9,"y":0.9},{"s":8,"x":1.93,"y":0.95},{"s":8,"x":1.97,"y":0.35},{"s":8,"x":2,"y":0.35}
],
"bg":[
{"s":1,"x":0,"y":-4},{"s":1,"x":0.02,"y":-2},{"s":1,"x":0.04,"y":-0.5},{"s":1,"x":0.06,"y":0.3},{"s":1,"x":0.08,"y":0.6},{"s":1,"x":0.09,"y":0.5},{"s":1,"x":0.1,"y":0.2},{"s":1,"x":0.12,"y":0},{"s":1,"x":0.15,"y":-1.5},{"s":1,"x":0.175,"y":-2.8},{"s":1,"x":0.19,"y":-3.2},{"s":1,"x":0.205,"y":-1.8},{"s":1,"x":0.225,"y":-0.5},{"s":1,"x":0.24,"y":-0.15},{"s":1,"x":0.26,"y":-1.2},{"s":1,"x":0.28,"y":-2.6},{"s":1,"x":0.295,"y":-3},{"s":1,"x":0.31,"y":-1.6},{"s":1,"x":0.33,"y":-0.3},{"s":1,"x":0.36,"y":0},{"s":1,"x":0.39,"y":0.1},{"s":1,"x":0.42,"y":0.25},{"s":1,"x":0.445,"y":0.33},{"s":1,"x":0.975,"y":0.33},{"s":1,"x":0.99,"y":-0.8},{"s":1,"x":1,"y":-2.5},{"s":1,"x":1.01,"y":-3.6},{"s":1,"x":1.02,"y":-1.8},{"s":1,"x":1.03,"y":-0.7},{"s":1,"x":1.05,"y":-0.1},{"s":1,"x":1.08,"y":0.25},{"s":1,"x":1.12,"y":0.45},{"s":1,"x":1.2,"y":0.6},{"s":1,"x":1.28,"y":0.65},{"s":1,"x":1.3,"y":0.45},{"s":1,"x":1.34,"y":0.35},{"s":1,"x":1.38,"y":0.45},{"s":1,"x":1.43,"y":0.7},{"s":1,"x":1.5,"y":0.8},{"s":1,"x":1.53,"y":0.55},{"s":1,"x":1.58,"y":0.45},{"s":1,"x":1.62,"y":0.5},{"s":1,"x":1.67,"y":0.75},{"s":1,"x":1.75,"y":0.85},{"s":1,"x":1.77,"y":0.6},{"s":1,"x":1.82,"y":0.5},{"s":1,"x":1.86,"y":0.7},{"s":1,"x":1.92,"y":0.85},{"s":1,"x":2,"y":0.9},
{"s":2,"x":0,"y":-4.6},{"s":2,"x":0.02,"y":-3.4},{"s":2,"x":0.04,"y":-1.7},{"s":2,"x":0.06,"y":-0.4},{"s":2,"x":0.08,"y":0.3},{"s":2,"x":0.09,"y":0.45},{"s":2,"x":0.1,"y":0.2},{"s":2,"x":0.12,"y":0},{"s":2,"x":0.15,"y":-1.4},{"s":2,"x":0.175,"y":-2.7},{"s":2,"x":0.19,"y":-3.1},{"s":2,"x":0.205,"y":-1.9},{"s":2,"x":0.225,"y":-0.6},{"s":2,"x":0.24,"y":-0.2},{"s":2,"x":0.26,"y":-1.1},{"s":2,"x":0.28,"y":-2.5},{"s":2,"x":0.295,"y":-3.1},{"s":2,"x":0.31,"y":-1.8},{"s":2,"x":0.33,"y":-0.4},{"s":2,"x":0.36,"y":-0.1},{"s":2,"x":0.39,"y":0.05},{"s":2,"x":0.42,"y":0.2},{"s":2,"x":0.445,"y":0.33},{"s":2,"x":0.978,"y":0.33},{"s":2,"x":0.993,"y":-1},{"s":2,"x":1.003,"y":-2.8},{"s":2,"x":1.013,"y":-3.8},{"s":2,"x":1.023,"y":-2},{"s":2,"x":1.035,"y":-0.8},{"s":2,"x":1.055,"y":-0.2},{"s":2,"x":1.09,"y":0.15},{"s":2,"x":1.13,"y":0.35},{"s":2,"x":1.2,"y":0.5},{"s":2,"x":1.29,"y":0.55},{"s":2,"x":1.31,"y":0.35},{"s":2,"x":1.35,"y":0.28},{"s":2,"x":1.39,"y":0.38},{"s":2,"x":1.44,"y":0.6},{"s":2,"x":1.51,"y":0.7},{"s":2,"x":1.54,"y":0.45},{"s":2,"x":1.59,"y":0.38},{"s":2,"x":1.63,"y":0.42},{"s":2,"x":1.68,"y":0.65},{"s":2,"x":1.76,"y":0.75},{"s":2,"x":1.78,"y":0.5},{"s":2,"x":1.83,"y":0.42},{"s":2,"x":1.87,"y":0.6},{"s":2,"x":1.93,"y":0.78},{"s":2,"x":2,"y":0.82},
{"s":3,"x":0,"y":-5},{"s":3,"x":0.02,"y":-4.4},{"s":3,"x":0.04,"y":-3.2},{"s":3,"x":0.06,"y":-1.6},{"s":3,"x":0.08,"y":-0.3},{"s":3,"x":0.09,"y":0.2},{"s":3,"x":0.1,"y":0.25},{"s":3,"x":0.12,"y":0.05},{"s":3,"x":0.15,"y":-1.3},{"s":3,"x":0.175,"y":-2.6},{"s":3,"x":0.19,"y":-3.3},{"s":3,"x":0.205,"y":-2},{"s":3,"x":0.225,"y":-0.7},{"s":3,"x":0.24,"y":-0.25},{"s":3,"x":0.26,"y":-1},{"s":3,"x":0.28,"y":-2.4},{"s":3,"x":0.295,"y":-3.2},{"s":3,"x":0.31,"y":-2},{"s":3,"x":0.33,"y":-0.6},{"s":3,"x":0.36,"y":-0.2},{"s":3,"x":0.39,"y":0},{"s":3,"x":0.42,"y":0.15},{"s":3,"x":0.445,"y":0.33},{"s":3,"x":0.98,"y":0.33},{"s":3,"x":0.996,"y":-1.2},{"s":3,"x":1.006,"y":-3},{"s":3,"x":1.016,"y":-3.9},{"s":3,"x":1.026,"y":-2.2},{"s":3,"x":1.04,"y":-1},{"s":3,"x":1.06,"y":-0.3},{"s":3,"x":1.1,"y":0.05},{"s":3,"x":1.15,"y":0.25},{"s":3,"x":1.22,"y":0.4},{"s":3,"x":1.29,"y":0.45},{"s":3,"x":1.31,"y":0.28},{"s":3,"x":1.36,"y":0.2},{"s":3,"x":1.4,"y":0.3},{"s":3,"x":1.46,"y":0.5},{"s":3,"x":1.52,"y":0.6},{"s":3,"x":1.54,"y":0.38},{"s":3,"x":1.6,"y":0.3},{"s":3,"x":1.64,"y":0.35},{"s":3,"x":1.7,"y":0.55},{"s":3,"x":1.77,"y":0.68},{"s":3,"x":1.79,"y":0.42},{"s":3,"x":1.84,"y":0.35},{"s":3,"x":1.88,"y":0.52},{"s":3,"x":1.94,"y":0.72},{"s":3,"x":2,"y":0.75},
{"s":4,"x":0,"y":-5},{"s":4,"x":0.02,"y":-5},{"s":4,"x":0.04,"y":-4.4},{"s":4,"x":0.06,"y":-2.9},{"s":4,"x":0.08,"y":-1.2},{"s":4,"x":0.09,"y":-0.3},{"s":4,"x":0.1,"y":0.1},{"s":4,"x":0.12,"y":0},{"s":4,"x":0.15,"y":-1.6},{"s":4,"x":0.175,"y":-2.9},{"s":4,"x":0.19,"y":-3.2},{"s":4,"x":0.205,"y":-1.7},{"s":4,"x":0.225,"y":-0.4},{"s":4,"x":0.24,"y":-0.2},{"s":4,"x":0.26,"y":-1.3},{"s":4,"x":0.28,"y":-2.7},{"s":4,"x":0.295,"y":-3.2},{"s":4,"x":0.31,"y":-2.2},{"s":4,"x":0.33,"y":-0.8},{"s":4,"x":0.36,"y":-0.3},{"s":4,"x":0.39,"y":-0.05},{"s":4,"x":0.42,"y":0.2},{"s":4,"x":0.445,"y":0.33},{"s":4,"x":0.982,"y":0.33},{"s":4,"x":1,"y":-1.5},{"s":4,"x":1.01,"y":-3.3},{"s":4,"x":1.02,"y":-4.1},{"s":4,"x":1.03,"y":-2.6},{"s":4,"x":1.045,"y":-1.3},{"s":4,"x":1.07,"y":-0.5},{"s":4,"x":1.11,"y":-0.05},{"s":4,"x":1.17,"y":0.2},{"s":4,"x":1.25,"y":0.35},{"s":4,"x":1.3,"y":0.4},{"s":4,"x":1.32,"y":0.22},{"s":4,"x":1.37,"y":0.15},{"s":4,"x":1.41,"y":0.25},{"s":4,"x":1.47,"y":0.45},{"s":4,"x":1.53,"y":0.55},{"s":4,"x":1.55,"y":0.32},{"s":4,"x":1.6,"y":0.25},{"s":4,"x":1.65,"y":0.3},{"s":4,"x":1.71,"y":0.5},{"s":4,"x":1.78,"y":0.62},{"s":4,"x":1.8,"y":0.38},{"s":4,"x":1.85,"y":0.3},{"s":4,"x":1.89,"y":0.48},{"s":4,"x":1.95,"y":0.68},{"s":4,"x":2,"y":0.7},
{"s":5,"x":0,"y":-3.6},{"s":5,"x":0.02,"y":-1.5},{"s":5,"x":0.04,"y":-0.3},{"s":5,"x":0.06,"y":0.4},{"s":5,"x":0.08,"y":0.65},{"s":5,"x":0.09,"y":0.55},{"s":5,"x":0.1,"y":0.2},{"s":5,"x":0.12,"y":0},{"s":5,"x":0.15,"y":-1.2},{"s":5,"x":0.175,"y":-2.4},{"s":5,"x":0.19,"y":-2.9},{"s":5,"x":0.205,"y":-1.6},{"s":5,"x":0.225,"y":-0.5},{"s":5,"x":0.24,"y":-0.15},{"s":5,"x":0.26,"y":-0.9},{"s":5,"x":0.28,"y":-2.2},{"s":5,"x":0.295,"y":-2.9},{"s":5,"x":0.31,"y":-1.4},{"s":5,"x":0.33,"y":-0.2},{"s":5,"x":0.36,"y":0.05},{"s":5,"x":0.39,"y":0.15},{"s":5,"x":0.42,"y":0.3},{"s":5,"x":0.445,"y":0.33},{"s":5,"x":0.976,"y":0.33},{"s":5,"x":0.988,"y":-0.6},{"s":5,"x":0.998,"y":-2.2},{"s":5,"x":1.008,"y":-3.3},{"s":5,"x":1.018,"y":-1.5},{"s":5,"x":1.028,"y":-0.5},{"s":5,"x":1.045,"y":0},{"s":5,"x":1.07,"y":0.35},{"s":5,"x":1.11,"y":0.55},{"s":5,"x":1.2,"y":0.68},{"s":5,"x":1.27,"y":0.72},{"s":5,"x":1.29,"y":0.5},{"s":5,"x":1.33,"y":0.42},{"s":5,"x":1.37,"y":0.52},{"s":5,"x":1.42,"y":0.75},{"s":5,"x":1.5,"y":0.85},{"s":5,"x":1.52,"y":0.62},{"s":5,"x":1.57,"y":0.52},{"s":5,"x":1.61,"y":0.58},{"s":5,"x":1.66,"y":0.8},{"s":5,"x":1.74,"y":0.9},{"s":5,"x":1.76,"y":0.65},{"s":5,"x":1.81,"y":0.55},{"s":5,"x":1.85,"y":0.75},{"s":5,"x":1.91,"y":0.9},{"s":5,"x":2,"y":0.95},
{"s":6,"x":0,"y":-5},{"s":6,"x":0.02,"y":-5},{"s":6,"x":0.04,"y":-5},{"s":6,"x":0.06,"y":-4.2},{"s":6,"x":0.08,"y":-2.4},{"s":6,"x":0.09,"y":-1},{"s":6,"x":0.1,"y":-0.1},{"s":6,"x":0.12,"y":0},{"s":6,"x":0.15,"y":-1.5},{"s":6,"x":0.175,"y":-2.7},{"s":6,"x":0.19,"y":-3},{"s":6,"x":0.205,"y":-1.8},{"s":6,"x":0.225,"y":-0.5},{"s":6,"x":0.24,"y":-0.1},{"s":6,"x":0.26,"y":-1.1},{"s":6,"x":0.28,"y":-2.5},{"s":6,"x":0.295,"y":-3},{"s":6,"x":0.31,"y":-2.4},{"s":6,"x":0.33,"y":-1},{"s":6,"x":0.36,"y":-0.4},{"s":6,"x":0.39,"y":-0.1},{"s":6,"x":0.42,"y":0.15},{"s":6,"x":0.445,"y":0.33},{"s":6,"x":0.985,"y":0.33},{"s":6,"x":1.003,"y":-1.8},{"s":6,"x":1.013,"y":-3.6},{"s":6,"x":1.023,"y":-4.3},{"s":6,"x":1.033,"y":-3},{"s":6,"x":1.05,"y":-1.6},{"s":6,"x":1.08,"y":-0.7},{"s":6,"x":1.12,"y":-0.2},{"s":6,"x":1.18,"y":0.1},{"s":6,"x":1.26,"y":0.3},{"s":6,"x":1.31,"y":0.35},{"s":6,"x":1.33,"y":0.18},{"s":6,"x":1.38,"y":0.12},{"s":6,"x":1.42,"y":0.22},{"s":6,"x":1.48,"y":0.4},{"s":6,"x":1.54,"y":0.5},{"s":6,"x":1.56,"y":0.3},{"s":6,"x":1.61,"y":0.22},{"s":6,"x":1.66,"y":0.28},{"s":6,"x":1.72,"y":0.45},{"s":6,"x":1.79,"y":0.58},{"s":6,"x":1.81,"y":0.35},{"s":6,"x":1.86,"y":0.28},{"s":6,"x":1.9,"y":0.45},{"s":6,"x":1.96,"y":0.62},{"s":6,"x":2,"y":0.65}
],
"br":[
{"s":1,"x":0,"y":-0.05},{"s":1,"x":0.03,"y":0},{"s":1,"x":0.06,"y":0.1},{"s":1,"x":0.085,"y":0.15},{"s":1,"x":0.1,"y":0.1},{"s":1,"x":0.12,"y":0},{"s":1,"x":0.14,"y":-0.9},{"s":1,"x":0.165,"y":-2.2},{"s":1,"x":0.185,"y":-3},{"s":1,"x":0.2,"y":-3.3},{"s":1,"x":0.215,"y":-1.6},{"s":1,"x":0.228,"y":-0.3},{"s":1,"x":0.245,"y":-0.6},{"s":1,"x":0.265,"y":-1.8},{"s":1,"x":0.285,"y":-2.8},{"s":1,"x":0.3,"y":-3.2},{"s":1,"x":0.31,"y":-3.3},{"s":1,"x":0.325,"y":-1.5},{"s":1,"x":0.34,"y":-0.4},{"s":1,"x":0.37,"y":-0.1},{"s":1,"x":0.4,"y":0.1},{"s":1,"x":0.43,"y":0.28},{"s":1,"x":0.45,"y":0.33},{"s":1,"x":0.95,"y":0.33},{"s":1,"x":0.975,"y":-0.5},{"s":1,"x":1,"y":-2.5},{"s":1,"x":1.02,"y":-3.8},{"s":1,"x":1.04,"y":-4.2},{"s":1,"x":1.055,"y":-3.6},{"s":1,"x":1.07,"y":-1.6},{"s":1,"x":1.1,"y":-1.25},{"s":1,"x":1.2,"y":-0.9},{"s":1,"x":1.26,"y":-0.5},{"s":1,"x":1.28,"y":-0.5},{"s":1,"x":1.3,"y":-1},{"s":1,"x":1.4,"y":-1.1},{"s":1,"x":1.5,"y":-0.85},{"s":1,"x":1.6,"y":-0.75},{"s":1,"x":1.7,"y":-0.7},{"s":1,"x":1.8,"y":-0.5},{"s":1,"x":1.9,"y":-0.4},{"s":1,"x":2,"y":-0.35},
{"s":2,"x":0,"y":-0.3},{"s":2,"x":0.03,"y":-0.2},{"s":2,"x":0.06,"y":-0.05},{"s":2,"x":0.085,"y":0.1},{"s":2,"x":0.1,"y":0.05},{"s":2,"x":0.12,"y":-0.1},{"s":2,"x":0.14,"y":-0.6},{"s":2,"x":0.165,"y":-0.55},{"s":2,"x":0.185,"y":-0.6},{"s":2,"x":0.2,"y":-0.7},{"s":2,"x":0.215,"y":-0.4},{"s":2,"x":0.228,"y":-0.25},{"s":2,"x":0.245,"y":-0.4},{"s":2,"x":0.265,"y":-0.6},{"s":2,"x":0.285,"y":-0.7},{"s":2,"x":0.3,"y":-0.8},{"s":2,"x":0.31,"y":-0.9},{"s":2,"x":0.325,"y":-0.5},{"s":2,"x":0.34,"y":-0.3},{"s":2,"x":0.37,"y":-0.15},{"s":2,"x":0.4,"y":0.05},{"s":2,"x":0.43,"y":0.25},{"s":2,"x":0.45,"y":0.33},{"s":2,"x":0.955,"y":0.33},{"s":2,"x":0.98,"y":-1},{"s":2,"x":1.01,"y":-3.5},{"s":2,"x":1.035,"y":-4.4},{"s":2,"x":1.05,"y":-4},{"s":2,"x":1.062,"y":-2},{"s":2,"x":1.1,"y":-1.6},{"s":2,"x":1.15,"y":-1.3},{"s":2,"x":1.2,"y":-0.95},{"s":2,"x":1.3,"y":-0.7},{"s":2,"x":1.4,"y":-0.55},{"s":2,"x":1.5,"y":-0.55},{"s":2,"x":1.55,"y":-0.9},{"s":2,"x":1.65,"y":-0.75},{"s":2,"x":1.75,"y":-0.6},{"s":2,"x":1.8,"y":-0.35},{"s":2,"x":1.9,"y":-0.25},{"s":2,"x":2,"y":-0.2},
{"s":3,"x":0,"y":-1.15},{"s":3,"x":0.03,"y":-0.9},{"s":3,"x":0.06,"y":-0.6},{"s":3,"x":0.085,"y":-0.3},{"s":3,"x":0.1,"y":-0.1},{"s":3,"x":0.12,"y":0},{"s":3,"x":0.14,"y":-1},{"s":3,"x":0.165,"y":-2.4},{"s":3,"x":0.185,"y":-3.1},{"s":3,"x":0.2,"y":-3},{"s":3,"x":0.215,"y":-1.2},{"s":3,"x":0.228,"y":-0.35},{"s":3,"x":0.245,"y":-0.8},{"s":3,"x":0.265,"y":-2},{"s":3,"x":0.285,"y":-3},{"s":3,"x":0.3,"y":-3.1},{"s":3,"x":0.31,"y":-2.8},{"s":3,"x":0.325,"y":-1},{"s":3,"x":0.34,"y":-0.35},{"s":3,"x":0.37,"y":-0.1},{"s":3,"x":0.4,"y":0.05},{"s":3,"x":0.43,"y":0.25},{"s":3,"x":0.45,"y":0.33},{"s":3,"x":0.96,"y":0.33},{"s":3,"x":0.99,"y":-2},{"s":3,"x":1.02,"y":-3.8},{"s":3,"x":1.05,"y":-4},{"s":3,"x":1.08,"y":-3.5},{"s":3,"x":1.11,"y":-3},{"s":3,"x":1.18,"y":-2.85},{"s":3,"x":1.28,"y":-2.65},{"s":3,"x":1.3,"y":-2.55},{"s":3,"x":1.33,"y":-2.75},{"s":3,"x":1.4,"y":-2.55},{"s":3,"x":1.45,"y":-2.45},{"s":3,"x":1.52,"y":-2.3},{"s":3,"x":1.57,"y":-2.65},{"s":3,"x":1.6,"y":-2.75},{"s":3,"x":1.65,"y":-2.65},{"s":3,"x":1.72,"y":-2.4},{"s":3,"x":1.77,"y":-2.15},{"s":3,"x":1.81,"y":-2.5},{"s":3,"x":1.86,"y":-2.55},{"s":3,"x":1.93,"y":-2.2},{"s":3,"x":2,"y":-1.95},
{"s":4,"x":0,"y":-1.4},{"s":4,"x":0.03,"y":-1.15},{"s":4,"x":0.06,"y":-0.9},{"s":4,"x":0.085,"y":-0.6},{"s":4,"x":0.1,"y":-0.2},{"s":4,"x":0.12,"y":0.05},{"s":4,"x":0.14,"y":-0.8},{"s":4,"x":0.165,"y":-2},{"s":4,"x":0.185,"y":-2.8},{"s":4,"x":0.2,"y":-3.2},{"s":4,"x":0.215,"y":-1.8},{"s":4,"x":0.228,"y":-0.4},{"s":4,"x":0.245,"y":-0.7},{"s":4,"x":0.265,"y":-1.6},{"s":4,"x":0.285,"y":-2.6},{"s":4,"x":0.3,"y":-3},{"s":4,"x":0.31,"y":-3.2},{"s":4,"x":0.325,"y":-1.8},{"s":4,"x":0.34,"y":-0.5},{"s":4,"x":0.37,"y":-0.2},{"s":4,"x":0.4,"y":0.05},{"s":4,"x":0.43,"y":0.25},{"s":4,"x":0.45,"y":0.33},{"s":4,"x":0.965,"y":0.33},{"s":4,"x":0.995,"y":-2.5},{"s":4,"x":1.03,"y":-4.6},{"s":4,"x":1.06,"y":-5.2},{"s":4,"x":1.15,"y":-5.2},{"s":4,"x":1.2,"y":-4.6},{"s":4,"x":1.25,"y":-3.5},{"s":4,"x":1.3,"y":-2.6},{"s":4,"x":1.35,"y":-2},{"s":4,"x":1.4,"y":-1.6},{"s":4,"x":1.5,"y":-1.2},{"s":4,"x":1.6,"y":-0.95},{"s":4,"x":1.7,"y":-0.8},{"s":4,"x":1.8,"y":-0.6},{"s":4,"x":1.9,"y":-0.45},{"s":4,"x":2,"y":-0.35},
{"s":5,"x":0,"y":-1.62},{"s":5,"x":0.03,"y":-1.4},{"s":5,"x":0.06,"y":-1.1},{"s":5,"x":0.085,"y":-0.8},{"s":5,"x":0.1,"y":-0.3},{"s":5,"x":0.12,"y":0},{"s":5,"x":0.14,"y":-1.1},{"s":5,"x":0.165,"y":-2.5},{"s":5,"x":0.185,"y":-3.2},{"s":5,"x":0.2,"y":-3.1},{"s":5,"x":0.215,"y":-1.4},{"s":5,"x":0.228,"y":-0.3},{"s":5,"x":0.245,"y":-0.9},{"s":5,"x":0.265,"y":-2.2},{"s":5,"x":0.285,"y":-2.9},{"s":5,"x":0.3,"y":-2.6},{"s":5,"x":0.31,"y":-2},{"s":5,"x":0.325,"y":-0.8},{"s":5,"x":0.34,"y":-0.3},{"s":5,"x":0.37,"y":-0.1},{"s":5,"x":0.4,"y":0.1},{"s":5,"x":0.43,"y":0.28},{"s":5,"x":0.45,"y":0.33},{"s":5,"x":0.958,"y":0.33},{"s":5,"x":0.985,"y":-1.5},{"s":5,"x":1.015,"y":-3.9},{"s":5,"x":1.04,"y":-4.3},{"s":5,"x":1.06,"y":-3.2},{"s":5,"x":1.08,"y":-1},{"s":5,"x":1.12,"y":-0.85},{"s":5,"x":1.2,"y":-0.7},{"s":5,"x":1.26,"y":-0.6},{"s":5,"x":1.3,"y":-0.5},{"s":5,"x":1.38,"y":-0.7},{"s":5,"x":1.45,"y":-0.65},{"s":5,"x":1.5,"y":-0.8},{"s":5,"x":1.6,"y":-0.9},{"s":5,"x":1.65,"y":-1.2},{"s":5,"x":1.7,"y":-1.3},{"s":5,"x":1.75,"y":-1.2},{"s":5,"x":1.8,"y":-0.9},{"s":5,"x":1.85,"y":-0.7},{"s":5,"x":1.9,"y":-0.6},{"s":5,"x":2,"y":-0.5},
{"s":6,"x":0,"y":-2.26},{"s":6,"x":0.03,"y":-2},{"s":6,"x":0.06,"y":-1.7},{"s":6,"x":0.085,"y":-1.2},{"s":6,"x":0.1,"y":-0.5},{"s":6,"x":0.12,"y":-0.1},{"s":6,"x":0.14,"y":-0.9},{"s":6,"x":0.165,"y":-2.1},{"s":6,"x":0.185,"y":-2.9},{"s":6,"x":0.2,"y":-3.35},{"s":6,"x":0.215,"y":-2},{"s":6,"x":0.228,"y":-0.5},{"s":6,"x":0.245,"y":-0.6},{"s":6,"x":0.265,"y":-1.4},{"s":6,"x":0.285,"y":-2.4},{"s":6,"x":0.3,"y":-3.1},{"s":6,"x":0.31,"y":-3.35},{"s":6,"x":0.325,"y":-2.2},{"s":6,"x":0.34,"y":-0.6},{"s":6,"x":0.37,"y":-0.25},{"s":6,"x":0.4,"y":0},{"s":6,"x":0.43,"y":0.22},{"s":6,"x":0.45,"y":0.33},{"s":6,"x":0.962,"y":0.33},{"s":6,"x":0.99,"y":-2.2},{"s":6,"x":1.02,"y":-4.2},{"s":6,"x":1.045,"y":-4.5},{"s":6,"x":1.07,"y":-3.6},{"s":6,"x":1.1,"y":-2.4},{"s":6,"x":1.15,"y":-1.6},{"s":6,"x":1.2,"y":-1.1},{"s":6,"x":1.3,"y":-0.8},{"s":6,"x":1.35,"y":-0.5},{"s":6,"x":1.4,"y":-0.6},{"s":6,"x":1.5,"y":-0.45},{"s":6,"x":1.6,"y":-0.6},{"s":6,"x":1.7,"y":-0.55},{"s":6,"x":1.75,"y":-0.35},{"s":6,"x":1.85,"y":-0.25},{"s":6,"x":2,"y":-0.45},
{"s":7,"x":0,"y":-3.58},{"s":7,"x":0.03,"y":-3.55},{"s":7,"x":0.06,"y":-3.4},{"s":7,"x":0.085,"y":-2.5},{"s":7,"x":0.1,"y":-0.8},{"s":7,"x":0.12,"y":0},{"s":7,"x":0.14,"y":-0.7},{"s":7,"x":0.165,"y":-1.9},{"s":7,"x":0.185,"y":-2.6},{"s":7,"x":0.2,"y":-2.9},{"s":7,"x":0.215,"y":-1.7},{"s":7,"x":0.228,"y":-0.4},{"s":7,"x":0.245,"y":-0.5},{"s":7,"x":0.265,"y":-1.2},{"s":7,"x":0.285,"y":-2.2},{"s":7,"x":0.3,"y":-2.9},{"s":7,"x":0.31,"y":-3},{"s":7,"x":0.325,"y":-1.6},{"s":7,"x":0.34,"y":-0.45},{"s":7,"x":0.37,"y":-0.15},{"s":7,"x":0.4,"y":0.05},{"s":7,"x":0.43,"y":0.25},{"s":7,"x":0.45,"y":0.33},{"s":7,"x":0.952,"y":0.33},{"s":7,"x":0.978,"y":-0.9},{"s":7,"x":1.005,"y":-3.2},{"s":7,"x":1.03,"y":-4.3},{"s":7,"x":1.05,"y":-4.1},{"s":7,"x":1.06,"y":-2.6},{"s":7,"x":1.08,"y":-1.7},{"s":7,"x":1.1,"y":-1.6},{"s":7,"x":1.2,"y":-1.1},{"s":7,"x":1.28,"y":-0.9},{"s":7,"x":1.36,"y":-0.85},{"s":7,"x":1.45,"y":-0.8},{"s":7,"x":1.55,"y":-0.6},{"s":7,"x":1.62,"y":-0.5},{"s":7,"x":1.7,"y":-0.4},{"s":7,"x":1.8,"y":-0.3},{"s":7,"x":1.9,"y":-0.4},{"s":7,"x":2,"y":-0.6},
{"s":8,"x":0.088,"y":-5},{"s":8,"x":0.092,"y":-3},{"s":8,"x":0.098,"y":-1.2},{"s":8,"x":0.105,"y":-0.2},{"s":8,"x":0.12,"y":0.05},{"s":8,"x":0.14,"y":-0.8},{"s":8,"x":0.165,"y":-2.2},{"s":8,"x":0.185,"y":-3.1},{"s":8,"x":0.2,"y":-3.2},{"s":8,"x":0.215,"y":-1.5},{"s":8,"x":0.228,"y":-0.3},{"s":8,"x":0.245,"y":-0.5},{"s":8,"x":0.265,"y":-1.7},{"s":8,"x":0.285,"y":-2.7},{"s":8,"x":0.3,"y":-3.2},{"s":8,"x":0.31,"y":-3.3},{"s":8,"x":0.325,"y":-1.7},{"s":8,"x":0.34,"y":-0.5},{"s":8,"x":0.37,"y":-0.15},{"s":8,"x":0.4,"y":0.05},{"s":8,"x":0.43,"y":0.25},{"s":8,"x":0.45,"y":0.33},{"s":8,"x":0.968,"y":0.33},{"s":8,"x":1,"y":-3},{"s":8,"x":1.03,"y":-4.4},{"s":8,"x":1.06,"y":-4.4},{"s":8,"x":1.08,"y":-3.8},{"s":8,"x":1.1,"y":-3},{"s":8,"x":1.15,"y":-2.2},{"s":8,"x":1.2,"y":-1.7},{"s":8,"x":1.3,"y":-1.3},{"s":8,"x":1.4,"y":-1.2},{"s":8,"x":1.5,"y":-1.35},{"s":8,"x":1.58,"y":-1.05},{"s":8,"x":1.65,"y":-0.9},{"s":8,"x":1.75,"y":-0.8},{"s":8,"x":1.85,"y":-0.7},{"s":8,"x":1.92,"y":-0.8},{"s":8,"x":2,"y":-0.9},
{"s":9,"x":0,"y":-1.8},{"s":9,"x":0.03,"y":-1.6},{"s":9,"x":0.06,"y":-1.3},{"s":9,"x":0.085,"y":-0.9},{"s":9,"x":0.1,"y":-0.4},{"s":9,"x":0.12,"y":-0.05},{"s":9,"x":0.14,"y":-1},{"s":9,"x":0.165,"y":-2.3},{"s":9,"x":0.185,"y":-3},{"s":9,"x":0.2,"y":-3.2},{"s":9,"x":0.215,"y":-1.5},{"s":9,"x":0.228,"y":-0.35},{"s":9,"x":0.245,"y":-0.7},{"s":9,"x":0.265,"y":-1.9},{"s":9,"x":0.285,"y":-2.8},{"s":9,"x":0.3,"y":-3},{"s":9,"x":0.31,"y":-3},{"s":9,"x":0.325,"y":-1.3},{"s":9,"x":0.34,"y":-0.4},{"s":9,"x":0.37,"y":-0.1},{"s":9,"x":0.4,"y":0.05},{"s":9,"x":0.43,"y":0.25},{"s":9,"x":0.45,"y":0.33},{"s":9,"x":0.97,"y":0.33},{"s":9,"x":1,"y":-2.8},{"s":9,"x":1.025,"y":-4},{"s":9,"x":1.04,"y":-4.3},{"s":9,"x":1.055,"y":-3.9},{"s":9,"x":1.07,"y":-3},{"s":9,"x":1.1,"y":-2.2},{"s":9,"x":1.15,"y":-1.8},{"s":9,"x":1.2,"y":-1.75},{"s":9,"x":1.3,"y":-1.8},{"s":9,"x":1.4,"y":-1.5},{"s":9,"x":1.5,"y":-1.4},{"s":9,"x":1.58,"y":-1.35},{"s":9,"x":1.65,"y":-1.2},
{"s":10,"x":0.45,"y":0.33},{"s":10,"x":0.95,"y":0.33},{"s":10,"x":0.98,"y":-1.3},{"s":10,"x":1.01,"y":-3.6},{"s":10,"x":1.04,"y":-4.4},{"s":10,"x":1.06,"y":-3},{"s":10,"x":1.08,"y":-2},{"s":10,"x":1.105,"y":-0.95},
{"s":11,"x":0.45,"y":0.33},{"s":11,"x":0.96,"y":0.33},{"s":11,"x":0.99,"y":-1.8},{"s":11,"x":1.02,"y":-4},{"s":11,"x":1.05,"y":-4.5},{"s":11,"x":1.08,"y":-4},{"s":11,"x":1.12,"y":-3.2},{"s":11,"x":1.2,"y":-2.2},{"s":11,"x":1.3,"y":-1.5},{"s":11,"x":1.4,"y":-1.1},{"s":11,"x":1.5,"y":-0.9},{"s":11,"x":1.6,"y":-0.8},{"s":11,"x":1.7,"y":-0.75},{"s":11,"x":1.8,"y":-0.65},{"s":11,"x":1.9,"y":-0.55},{"s":11,"x":2,"y":-0.5},
{"s":12,"x":0.45,"y":0.33},{"s":12,"x":0.953,"y":0.33},{"s":12,"x":0.985,"y":-1.2},{"s":12,"x":1.01,"y":-3},{"s":12,"x":1.03,"y":-3.5},{"s":12,"x":1.05,"y":-2.4},{"s":12,"x":1.08,"y":-1.9},{"s":12,"x":1.15,"y":-1.55},{"s":12,"x":1.22,"y":-1.3},{"s":12,"x":1.3,"y":-1.15},{"s":12,"x":1.4,"y":-1.25},{"s":12,"x":1.45,"y":-1.1},{"s":12,"x":1.55,"y":-0.7},{"s":12,"x":1.65,"y":-0.55},{"s":12,"x":1.75,"y":-0.45},{"s":12,"x":1.85,"y":-0.5},{"s":12,"x":1.93,"y":-0.4},{"s":12,"x":2,"y":-0.3}
]
},
"vconcat":[
{"width":992,"height":345,
"layer":[
{"data":{"name":"e1"},"mark":{"type":"area","color":"white","clip":true,"interpolate":"monotone"},
"encoding":{"x":{"field":"x","type":"quantitative","scale":{"domain":[0,2],"nice":false},"axis":null},
"y":{"field":"lo","type":"quantitative","scale":{"domain":[-4.56,3.55],"nice":false,"zero":false},"axis":{"values":[-4,-2,0,2],"labelExpr":"''+datum.value","title":["Score value of","component 1\u00a0\u00a0[-]"],"titlePadding":22,"titleLineHeight":47,"titleY":162}},
"y2":{"field":"hi"}}},
{"data":{"name":"e1"},"mark":{"type":"line","color":"black","strokeDash":[5,4],"strokeWidth":2.5,"clip":true,"interpolate":"monotone"},"encoding":{"x":{"field":"x","type":"quantitative","axis":null},"y":{"field":"hi","type":"quantitative"}}},
{"data":{"name":"e1"},"mark":{"type":"line","color":"black","strokeDash":[5,4],"strokeWidth":2.5,"clip":true,"interpolate":"monotone"},"encoding":{"x":{"field":"x","type":"quantitative","axis":null},"y":{"field":"lo","type":"quantitative"}}},
{"data":{"name":"tg"},"mark":{"type":"line","color":"#10e010","strokeWidth":3.5,"clip":true},"encoding":{"x":{"field":"x","type":"quantitative","axis":null},"y":{"field":"y","type":"quantitative"},"detail":{"field":"s","type":"nominal"}}},
{"data":{"name":"tr"},"mark":{"type":"line","color":"#ff0000","strokeWidth":3,"clip":true},"encoding":{"x":{"field":"x","type":"quantitative","axis":null},"y":{"field":"y","type":"quantitative"},"detail":{"field":"s","type":"nominal"}}},
{"data":{"values":[{"x":1.5,"x2":1.603,"y":0.85,"y2":-0.28}]},"mark":{"type":"rect","fill":"white","fillOpacity":0,"stroke":"#1f1fff","strokeWidth":2.5,"strokeDash":[5,4]},"encoding":{"x":{"field":"x","type":"quantitative","axis":null},"x2":{"field":"x2"},"y":{"field":"y","type":"quantitative"},"y2":{"field":"y2"}}},
{"data":{"values":[{"x":0.1,"y":2.96,"t":"NOT EXPECTED OPERATION RANGE"}]},"mark":{"type":"text","align":"left","baseline":"middle","color":"white","fontSize":24.5,"font":"Liberation Sans"},"encoding":{"x":{"field":"x","type":"quantitative","axis":null},"y":{"field":"y","type":"quantitative"},"text":{"field":"t"}}}
]},
{"width":992,"height":345,
"resolve":{"axis":{"x":"independent"}},
"layer":[
{"data":{"name":"e2"},"mark":{"type":"area","color":"white","clip":true,"interpolate":"monotone"},
"encoding":{"x":{"field":"x","type":"quantitative","scale":{"domain":[0,2],"nice":false},"axis":{"orient":"bottom","values":[0,0.5,1,1.5,2],"format":".1f","title":"Time\u00a0\u00a0\u00a0[h]","titlePadding":24}},
"y":{"field":"lo","type":"quantitative","scale":{"domain":[-4.56,3.55],"nice":false,"zero":false},"axis":{"values":[-4,-2,0,2],"labelExpr":"''+datum.value","title":["Score value of","component 2\u00a0\u00a0[-]"],"titlePadding":22,"titleLineHeight":47,"titleY":148}},
"y2":{"field":"hi"}}},
{"data":{"name":"e2"},"mark":{"type":"line","color":"black","strokeDash":[5,4],"strokeWidth":2.5,"clip":true,"interpolate":"monotone"},"encoding":{"x":{"field":"x","type":"quantitative","axis":null},"y":{"field":"hi","type":"quantitative"}}},
{"data":{"name":"e2"},"mark":{"type":"line","color":"black","strokeDash":[5,4],"strokeWidth":2.5,"clip":true,"interpolate":"monotone"},"encoding":{"x":{"field":"x","type":"quantitative","axis":null},"y":{"field":"lo","type":"quantitative"}}},
{"data":{"name":"bg"},"mark":{"type":"line","color":"#10e010","strokeWidth":3.5,"clip":true},"encoding":{"x":{"field":"x","type":"quantitative","axis":null},"y":{"field":"y","type":"quantitative"},"detail":{"field":"s","type":"nominal"}}},
{"data":{"name":"br"},"mark":{"type":"line","color":"#ff0000","strokeWidth":2.5,"clip":true},"encoding":{"x":{"field":"x","type":"quantitative","axis":null},"y":{"field":"y","type":"quantitative"},"detail":{"field":"s","type":"nominal"}}},
{"data":{"values":[{"x":1.109,"y":-3.98,"t":"NOT EXPECTED OPERATION RANGE"}]},"mark":{"type":"text","align":"left","baseline":"middle","color":"white","fontSize":24.5,"font":"Liberation Sans"},"encoding":{"x":{"field":"x","type":"quantitative","axis":{"orient":"top","labels":false,"values":[0.5,1,1.5],"tickSize":-12,"title":null}},"y":{"field":"y","type":"quantitative"},"text":{"field":"t"}}}
]}
]
}
